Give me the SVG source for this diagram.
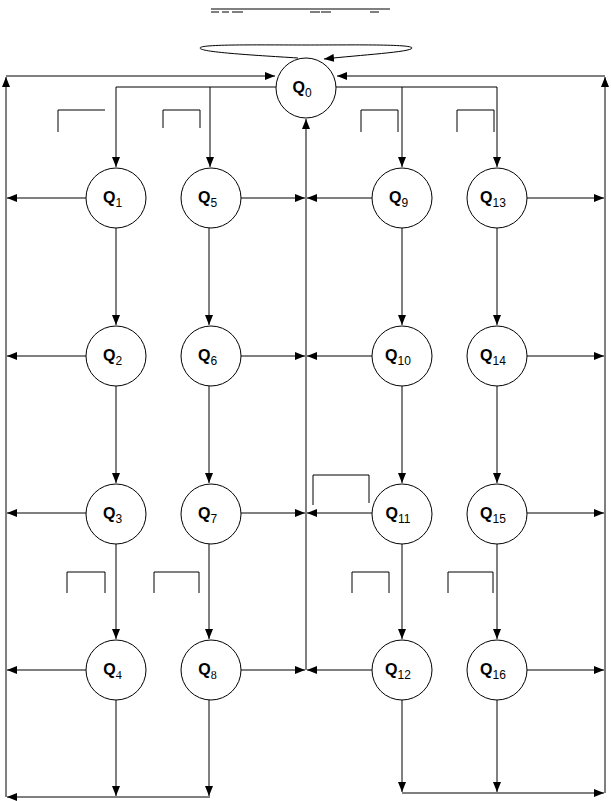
<svg xmlns="http://www.w3.org/2000/svg" width="611" height="801" viewBox="0 0 611 801">
<style>
.node circle{fill:#fff;stroke:#000;stroke-width:1}
.lbl{font-family:"Liberation Sans",Arial,sans-serif;font-weight:bold;font-size:16px;fill:#000}
.sub{font-weight:normal;font-size:12px}
.ser{font-family:"Liberation Serif","Times New Roman",serif}
.c path,.c line{fill:none;stroke:#000;stroke-width:1}
.a{marker-end:url(#ah)}
.deco{fill:none;stroke:#000;stroke-width:1}
</style>
<defs>
<marker id="ah" viewBox="0 0 10 8" refX="10" refY="4" markerWidth="10" markerHeight="8" markerUnits="userSpaceOnUse" orient="auto">
<path d="M0,0 L10,4 L0,8 z" fill="#000"/>
</marker>
</defs>
<rect width="611" height="801" fill="#fff"/>
<g id="decor" class="deco">
<path d="M211,9 H390"/>
<path d="M211,12 H219 M222,12 H229 M232,12 H243 M310,12 H320 M321,12 H331 M370,12 H379"/>
<path d="M58,132 V110 H105"/>
<path d="M163,128 V110 H200 V128"/>
<path d="M361,132 V110 H398 V132"/>
<path d="M457,132 V110 H494 V132"/>
<path d="M67,593 V572 H105 V593"/>
<path d="M154,593 V572 H199 V593"/>
<path d="M352,593 V572 H389 V593"/>
<path d="M448,593 V572 H493 V593"/>
</g>
<g id="connectors" class="c">
<path class="a" d="M298,58 C250,55 200,52 200,48 C200,44 260,45 306,45 C352,45 412,44 412,48 C412,52 360,55 324,59"/>
<path class="a" d="M6,797 V77"/>
<path class="a" d="M6,76 H275"/>
<path class="a" d="M605,793 V77"/>
<path class="a" d="M605,76 H337"/>
<path class="a" d="M276,87 H116 V167"/>
<path class="a" d="M210,87 V167"/>
<path class="a" d="M336,87 H497 V167"/>
<path class="a" d="M402,87 V167"/>
<path class="a" d="M306,670 V119"/>
<path class="a" d="M86,198 H7"/>
<path class="a" d="M241,198 H305"/>
<path class="a" d="M372,198 H307"/>
<path class="a" d="M527,198 H604"/>
<path class="a" d="M86,356 H7"/>
<path class="a" d="M241,356 H305"/>
<path class="a" d="M372,356 H307"/>
<path class="a" d="M527,356 H604"/>
<path class="a" d="M86,513 H7"/>
<path class="a" d="M241,513 H305"/>
<path class="a" d="M372,513 H307"/>
<path class="a" d="M527,513 H604"/>
<path class="a" d="M86,670 H7"/>
<path class="a" d="M241,670 H305"/>
<path class="a" d="M372,670 H307"/>
<path class="a" d="M527,670 H604"/>
<path class="a" d="M116,228 V325"/>
<path class="a" d="M116,386 V483"/>
<path class="a" d="M116,544 V639"/>
<path class="a" d="M116,700 V796"/>
<path class="a" d="M209,228 V325"/>
<path class="a" d="M209,386 V483"/>
<path class="a" d="M209,544 V639"/>
<path class="a" d="M209,700 V796"/>
<path class="a" d="M402,228 V325"/>
<path class="a" d="M402,386 V483"/>
<path class="a" d="M402,544 V639"/>
<path class="a" d="M402,700 V792"/>
<path class="a" d="M497,228 V325"/>
<path class="a" d="M497,386 V483"/>
<path class="a" d="M497,544 V639"/>
<path class="a" d="M497,700 V792"/>
<path class="a" d="M210,797 H7"/>
<path class="a" d="M402,793 H604"/>
<path d="M369,503 V475 H313 V505"/>
</g>
<g id="Q0" class="node"><circle cx="306" cy="88" r="30"/><text class="lbl" x="302" y="93" text-anchor="middle">Q<tspan class="sub" dy="4">0</tspan></text></g>
<g id="Q1" class="node"><circle cx="116" cy="198" r="30"/><text class="lbl" x="112.5" y="203" text-anchor="middle">Q<tspan class="sub" dy="4">1</tspan></text></g>
<g id="Q2" class="node"><circle cx="116" cy="356" r="30"/><text class="lbl" x="112.5" y="361" text-anchor="middle">Q<tspan class="sub" dy="4">2</tspan></text></g>
<g id="Q3" class="node"><circle cx="116" cy="514" r="30"/><text class="lbl" x="112.5" y="519" text-anchor="middle">Q<tspan class="sub" dy="4">3</tspan></text></g>
<g id="Q4" class="node"><circle cx="116" cy="670" r="30"/><text class="lbl" x="112.5" y="675" text-anchor="middle">Q<tspan class="sub ser" dy="4">4</tspan></text></g>
<g id="Q5" class="node"><circle cx="211" cy="198" r="30"/><text class="lbl" x="207.5" y="203" text-anchor="middle">Q<tspan class="sub" dy="4">5</tspan></text></g>
<g id="Q6" class="node"><circle cx="211" cy="356" r="30"/><text class="lbl" x="207.5" y="361" text-anchor="middle">Q<tspan class="sub" dy="4">6</tspan></text></g>
<g id="Q7" class="node"><circle cx="211" cy="514" r="30"/><text class="lbl" x="207.5" y="519" text-anchor="middle">Q<tspan class="sub" dy="4">7</tspan></text></g>
<g id="Q8" class="node"><circle cx="211" cy="670" r="30"/><text class="lbl" x="207.5" y="675" text-anchor="middle">Q<tspan class="sub ser" dy="4">8</tspan></text></g>
<g id="Q9" class="node"><circle cx="402" cy="198" r="30"/><text class="lbl" x="398.5" y="203" text-anchor="middle">Q<tspan class="sub" dy="4">9</tspan></text></g>
<g id="Q10" class="node"><circle cx="402" cy="356" r="30"/><text class="lbl" x="398" y="361" text-anchor="middle">Q<tspan class="sub" dy="4">10</tspan></text></g>
<g id="Q11" class="node"><circle cx="402" cy="514" r="30"/><text class="lbl" x="398" y="519" text-anchor="middle">Q<tspan class="sub" dy="4">11</tspan></text></g>
<g id="Q12" class="node"><circle cx="402" cy="670" r="30"/><text class="lbl" x="398" y="675" text-anchor="middle">Q<tspan class="sub" dy="4">12</tspan></text></g>
<g id="Q13" class="node"><circle cx="497" cy="198" r="30"/><text class="lbl" x="493" y="203" text-anchor="middle">Q<tspan class="sub" dy="4">13</tspan></text></g>
<g id="Q14" class="node"><circle cx="497" cy="356" r="30"/><text class="lbl" x="493" y="361" text-anchor="middle">Q<tspan class="sub" dy="4">14</tspan></text></g>
<g id="Q15" class="node"><circle cx="497" cy="514" r="30"/><text class="lbl" x="493" y="519" text-anchor="middle">Q<tspan class="sub" dy="4">15</tspan></text></g>
<g id="Q16" class="node"><circle cx="497" cy="670" r="30"/><text class="lbl" x="493" y="675" text-anchor="middle">Q<tspan class="sub" dy="4">16</tspan></text></g>
</svg>
